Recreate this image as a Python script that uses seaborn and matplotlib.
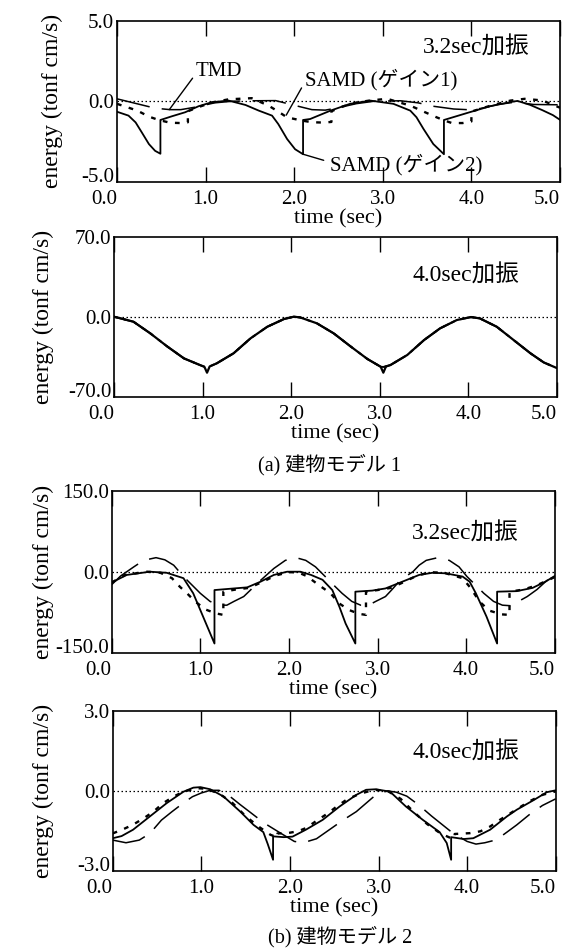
import matplotlib
matplotlib.use("Agg")
import matplotlib.pyplot as plt
import seaborn as sns

# ---------------- data ----------------
xticks = [0, 1, 2, 3, 4, 5]
xtick_labels = ["0.0", "1.0", "2.0", "3.0", "4.0", "5.0"]

# (a) model 1, 3.2 sec excitation
p1_samd2_t = [0.00, 0.13, 0.21, 0.28, 0.36, 0.43, 0.49, 0.49, 0.62, 0.77, 0.92, 1.07, 1.26, 1.45, 1.60, 1.75,
              1.82, 1.92, 2.01, 2.10, 2.10, 2.18, 2.41, 2.63, 2.86, 3.12, 3.31, 3.38, 3.46, 3.57, 3.69, 3.69,
              3.98, 4.21, 4.44, 4.52, 4.66, 4.80, 4.92, 5.00]
p1_samd2_v = [-0.65, -0.89, -1.31, -1.93, -2.65, -3.07, -3.25, -1.16, -0.93, -0.68, -0.31, -0.06, 0.04, -0.23,
              -0.58, -0.89, -1.41, -2.34, -2.97, -3.28, -1.16, -1.10, -0.58, -0.16, 0.04, -0.16, -0.58, -0.99,
              -1.72, -2.65, -3.28, -1.16, -0.68, -0.31, -0.05, 0.02, -0.22, -0.55, -0.86, -1.15]
p1_samd1_t = [0.00, 0.23, 0.36, 0.47, 0.60, 0.72, 0.80, 0.80, 0.92, 1.07, 1.26, 1.52, 1.71, 1.82, 1.92, 2.09,
              2.20, 2.33, 2.42, 2.42, 2.55, 2.70, 2.86, 3.05, 3.31, 3.46, 3.61, 3.70, 3.78, 3.90, 4.00, 4.00,
              4.20, 4.44, 4.60, 4.80, 5.00]
p1_samd1_v = [-0.16, -0.58, -0.95, -1.16, -1.33, -1.35, -1.30, -0.62, -0.36, -0.08, 0.12, 0.19, -0.27, -0.64,
              -1.00, -1.20, -1.30, -1.32, -1.28, -0.62, -0.32, -0.08, 0.05, 0.15, -0.27, -0.64, -1.00, -1.20,
              -1.35, -1.35, -1.25, -0.64, -0.30, 0.04, 0.15, 0.05, -0.40]
p1_tmd_t = [0.00, 0.20, 0.43, 0.60, 0.72, 0.90, 1.10, 1.30, 1.55, 1.79, 2.00, 2.20, 2.35, 2.50, 2.70, 2.90,
            3.20, 3.40, 3.57, 3.80, 3.95, 4.10, 4.30, 4.50, 4.70, 5.00]
p1_tmd_v = [0.15, -0.12, -0.43, -0.52, -0.52, -0.35, -0.10, 0.00, 0.03, 0.04, -0.25, -0.52, -0.55, -0.40,
            -0.15, 0.00, 0.03, -0.10, -0.31, -0.48, -0.52, -0.45, -0.20, -0.05, -0.20, -0.22]

# (a) model 1, 4.0 sec excitation (all curves overlap)
p2_t = [0.00, 0.22, 0.41, 0.60, 0.79, 0.97, 1.02, 1.05, 1.08, 1.16, 1.35, 1.54, 1.73, 1.92, 2.03, 2.10, 2.29,
        2.48, 2.67, 2.86, 3.01, 3.04, 3.07, 3.12, 3.31, 3.50, 3.68, 3.87, 4.03, 4.13, 4.32, 4.51, 4.70, 4.85, 5.00]
p2_samd2_v = [0.0, -4.4, -14.6, -26.0, -36.5, -42.3, -43.8, -49.0, -43.5, -40.8, -32.0, -19.0, -8.8, -2.0, 0.0,
              -0.6, -5.8, -14.6, -26.0, -37.0, -43.8, -49.0, -43.5, -42.3, -33.5, -20.4, -10.2, -2.9, -0.3, -1.5,
              -8.8, -20.4, -32.0, -40.0, -45.0]
p2_other_v = [0.0, -4.4, -14.6, -26.0, -36.5, -42.3, -43.8, -44.0, -43.5, -40.8, -32.0, -19.0, -8.8, -2.0, 0.0,
              -0.6, -5.8, -14.6, -26.0, -37.0, -43.8, -44.0, -43.5, -42.3, -33.5, -20.4, -10.2, -2.9, -0.3, -1.5,
              -8.8, -20.4, -32.0, -40.0, -45.0]

# (b) model 2, 3.2 sec excitation
p3_samd2_t = [0.00, 0.17, 0.43, 0.62, 0.81, 0.92, 1.00, 1.08, 1.16, 1.16, 1.38, 1.53, 1.68, 1.83, 1.98, 2.13,
              2.25, 2.38, 2.49, 2.57, 2.64, 2.75, 2.75, 2.94, 3.09, 3.28, 3.47, 3.62, 3.77, 3.96, 4.04, 4.11,
              4.23, 4.35, 4.35, 4.57, 4.75, 4.90, 5.00]
p3_samd2_v = [-20, -6, 0, -2, -12, -40, -71, -102, -133, -34, -31, -29, -18.5, -6, 0, 0, -6, -15, -34, -65,
              -96, -133, -37, -35, -31, -18.5, -6, -2, -3, -9, -18.5, -40, -83, -133, -37, -36, -30, -18, -8]
p3_samd1_t = [0.00, 0.15, 0.40, 0.55, 0.68, 0.77, 0.85, 0.94, 1.06, 1.17, 1.26, 1.26, 1.40, 1.55, 1.70, 1.85,
              2.00, 2.10, 2.20, 2.34, 2.47, 2.57, 2.68, 2.79, 2.87, 2.87, 3.00, 3.15, 3.30, 3.45, 3.60, 3.75,
              3.96, 4.05, 4.15, 4.26, 4.40, 4.49, 4.49, 4.65, 4.80, 5.00]
p3_samd1_v = [-20, -6, 0, -2, -12, -28, -40, -55, -70, -77, -80, -37, -33, -30, -19, -7, -1, -1, -8, -25, -40,
              -59, -71, -78, -80, -37, -34, -30, -19, -7, -1, -2, -12, -30, -55, -72, -79, -80, -37, -33, -25, -10]
p3_tmd_t = [0.00, 0.10, 0.25, 0.36, 0.50, 0.60, 0.70, 0.81, 0.89, 1.00, 1.11, 1.21, 1.30, 1.38, 1.49, 1.56,
            1.64, 1.83, 1.96, 2.08, 2.19, 2.30, 2.41, 2.50, 2.60, 2.71, 2.81, 2.90, 2.98, 3.09, 3.17, 3.26,
            3.40, 3.47, 3.55, 3.68, 3.81, 3.92, 4.01, 4.09, 4.20, 4.31, 4.41, 4.50, 4.58, 4.69, 4.80, 4.90, 5.00]
p3_tmd_v = [-24, -8, 9, 21, 26, 22, 12, -9, -22, -40, -55, -62, -62, -55, -46, -35, -22, 6, 21, 26, 21, 9, -9,
            -24, -40, -55, -62, -62, -55, -46, -32, -15, 0, 12, 21, 26, 21, 9, -9, -22, -40, -55, -62, -63, -56,
            -46, -33, -18, -5]

# (b) model 2, 4.0 sec excitation
p4_samd2_t = [0.00, 0.10, 0.23, 0.42, 0.61, 0.80, 0.91, 0.99, 1.10, 1.25, 1.44, 1.59, 1.70, 1.75, 1.81, 1.81,
              1.93, 2.03, 2.18, 2.37, 2.56, 2.75, 2.86, 2.97, 3.13, 3.31, 3.50, 3.69, 3.77, 3.82, 3.82, 3.96,
              4.07, 4.26, 4.45, 4.56, 4.75, 4.90, 5.00]
p4_samd2_v = [-1.78, -1.70, -1.46, -0.96, -0.46, -0.03, 0.12, 0.14, 0.06, -0.21, -0.78, -1.28, -1.55, -2.00,
              -2.59, -1.71, -1.74, -1.72, -1.46, -1.09, -0.59, -0.15, 0.04, 0.06, -0.03, -0.59, -1.09, -1.55,
              -1.96, -2.59, -1.74, -1.81, -1.78, -1.46, -0.96, -0.71, -0.35, -0.05, 0.02]
p4_samd1_t = [0.00, 0.12, 0.23, 0.35, 0.46, 0.57, 0.69, 0.80, 0.95, 1.05, 1.20, 1.35, 1.50, 1.65, 1.78, 1.86,
              1.86, 1.97, 2.09, 2.18, 2.29, 2.43, 2.54, 2.65, 2.79, 2.95, 3.10, 3.25, 3.40, 3.55, 3.70, 3.80,
              3.86, 3.86, 3.92, 4.03, 4.15, 4.26, 4.37, 4.49, 4.58, 4.70, 4.85, 5.00]
p4_samd1_v = [-1.60, -1.44, -1.27, -1.03, -0.78, -0.46, -0.21, -0.03, 0.10, 0.08, -0.10, -0.45, -0.95, -1.35,
              -1.65, -1.75, -1.60, -1.59, -1.52, -1.40, -1.15, -0.84, -0.56, -0.31, -0.11, 0.04, 0.00, -0.30,
              -0.80, -1.25, -1.60, -1.75, -1.78, -1.62, -1.61, -1.59, -1.52, -1.34, -1.09, -0.84, -0.65, -0.40,
              -0.15, -0.02]
p4_tmd_t = [0.00, 0.15, 0.30, 0.42, 0.55, 0.67, 0.80, 0.90, 1.00, 1.10, 1.20, 1.32, 1.44, 1.55, 1.71, 1.90,
            2.05, 2.15, 2.30, 2.45, 2.60, 2.75, 2.90, 2.97, 3.10, 3.20, 3.32, 3.45, 3.60, 3.75, 3.84, 4.00,
            4.10, 4.20, 4.33, 4.45, 4.56, 4.70, 4.85, 5.00]
p4_tmd_v = [-1.85, -1.95, -1.85, -1.60, -1.10, -0.78, -0.45, -0.22, -0.08, 0.02, 0.02, -0.20, -0.52, -0.80,
            -1.21, -1.60, -1.90, -1.95, -1.80, -1.45, -1.10, -0.78, -0.35, -0.15, 0.00, -0.05, -0.20, -0.52,
            -0.95, -1.35, -1.59, -1.90, -2.00, -1.95, -1.84, -1.55, -1.28, -0.90, -0.55, -0.30]

ylims = [5.0, 70.0, 150.0, 3.0]
ytick_labels = [["-5.0", "0.0", "5.0"], ["-70.0", "0.0", "70.0"],
                ["-150.0", "0.0", "150.0"], ["-3.0", "0.0", "3.0"]]
titles = ["3.2sec加振", "4.0sec加振", "3.2sec加振", "4.0sec加振"]
captions = ["(a) 建物モデル 1", "(b) 建物モデル 2"]

# ---------------- style ----------------
sns.set_style("white", rc={"axes.edgecolor": "black", "text.color": "black",
                           "xtick.color": "black", "ytick.color": "black",
                           "axes.labelcolor": "black"})
plt.rcParams["font.family"] = ["Liberation Serif", "Noto Sans CJK JP"]

W, H = 565, 951
fig = plt.figure(figsize=(W / 100, H / 100), dpi=100)

# pixel boxes: left, right, top, bottom
boxes = [(117, 560, 20.5, 182), (114, 557, 236.7, 396.7),
         (111.7, 554.7, 490.7, 652.7), (112.7, 555.7, 711, 870.7)]
title_px = [(530, 47.5), (519, 275.5), (519, 533.5), (519, 752.5)]
ylabel_right_px = [63, 54, 54, 54]

SOLID = dict(linewidth=1.3, linestyle="-")
DOTS = dict(linewidth=1.7, linestyle=(0, (2.0, 3.2)))
LONG = dict(linewidth=1.1, linestyle=(0, (22, 8)))


def line(ax, t, v, style):
    sns.lineplot(x=t, y=v, ax=ax, estimator=None, sort=False, color="black", **style)


axes = []
for i, (l, r, t, b) in enumerate(boxes):
    ax = fig.add_axes([l / W, 1 - b / H, (r - l) / W, (b - t) / H])
    axes.append(ax)
    ax.axhline(0, color="black", linewidth=0.9, linestyle=(0, (1.2, 2.0)), zorder=1)

line(axes[0], p1_tmd_t, p1_tmd_v, LONG)
line(axes[0], p1_samd1_t, p1_samd1_v, DOTS)
line(axes[0], p1_samd2_t, p1_samd2_v, SOLID)

line(axes[1], p2_t, p2_other_v, dict(linewidth=1.4, linestyle=(0, (22, 8))))
line(axes[1], p2_t, p2_other_v, dict(linewidth=1.4, linestyle=(0, (2.0, 3.2))))
line(axes[1], p2_t, p2_samd2_v, dict(linewidth=1.6, linestyle="-"))

line(axes[2], p3_tmd_t, p3_tmd_v, LONG)
line(axes[2], p3_samd1_t, p3_samd1_v, DOTS)
line(axes[2], p3_samd2_t, p3_samd2_v, SOLID)

line(axes[3], p4_tmd_t, p4_tmd_v, LONG)
line(axes[3], p4_samd1_t, p4_samd1_v, DOTS)
line(axes[3], p4_samd2_t, p4_samd2_v, SOLID)

for i, ax in enumerate(axes):
    l, r, t, b = boxes[i]
    ym = ylims[i]
    ax.set_xlim(0, 5)
    ax.set_ylim(-ym, ym)
    ax.set_xticks(xticks, labels=xtick_labels)
    ax.set_yticks([-ym, 0, ym], labels=ytick_labels[i])
    ax.tick_params(axis="x", direction="in", top=True, bottom=True, length=11, width=1.0,
                   pad=6, labelsize=15)
    ax.tick_params(axis="y", length=0, pad=2, labelsize=15)
    xl = ax.get_xticklabels()
    xl[0].set_ha("right")
    xl[-1].set_ha("right")
    yl = ax.get_yticklabels()
    yl[0].set_va("baseline")
    for s in ax.spines.values():
        s.set_visible(True)
        s.set_linewidth(1.2)
        s.set_color("black")
    ax.set_xlabel("time (sec)", fontsize=16, labelpad=0)
    ax.set_ylabel("energy (tonf cm/s)", fontsize=17)
    ax.yaxis.set_label_coords((ylabel_right_px[i] - l) / (r - l), 0.5)
    tx, ty = title_px[i]
    ax.text((tx - l) / (r - l), (b - ty) / (b - t), titles[i], transform=ax.transAxes,
            ha="right", va="center", fontsize=17)

# annotations in panel 1
a0 = axes[0]
a0.annotate("TMD", xy=(0.59, -0.52), xytext=(0.89, 1.82), fontsize=15, ha="left", va="center",
            arrowprops=dict(arrowstyle="-", color="black", lw=1.0, shrinkA=0, shrinkB=0,
                            relpos=(0.0, 0.4)))
a0.annotate("SAMD (ゲイン1)", xy=(1.91, -0.86), xytext=(2.12, 1.32), fontsize=15, ha="left", va="center",
            arrowprops=dict(arrowstyle="-", color="black", lw=1.0, shrinkA=0, shrinkB=0,
                            relpos=(0.0, 0.4)))
a0.annotate("SAMD (ゲイン2)", xy=(2.10, -3.28), xytext=(2.40, -3.9), fontsize=15, ha="left", va="center",
            arrowprops=dict(arrowstyle="-", color="black", lw=1.0, shrinkA=2, shrinkB=0,
                            relpos=(0.0, 0.6)))

fig.text(330 / W, 1 - 465 / H, captions[0], ha="center", va="center", fontsize=14.5)
fig.text(340 / W, 1 - 937 / H, captions[1], ha="center", va="center", fontsize=14.5)

fig.savefig("out.png", dpi=100)
